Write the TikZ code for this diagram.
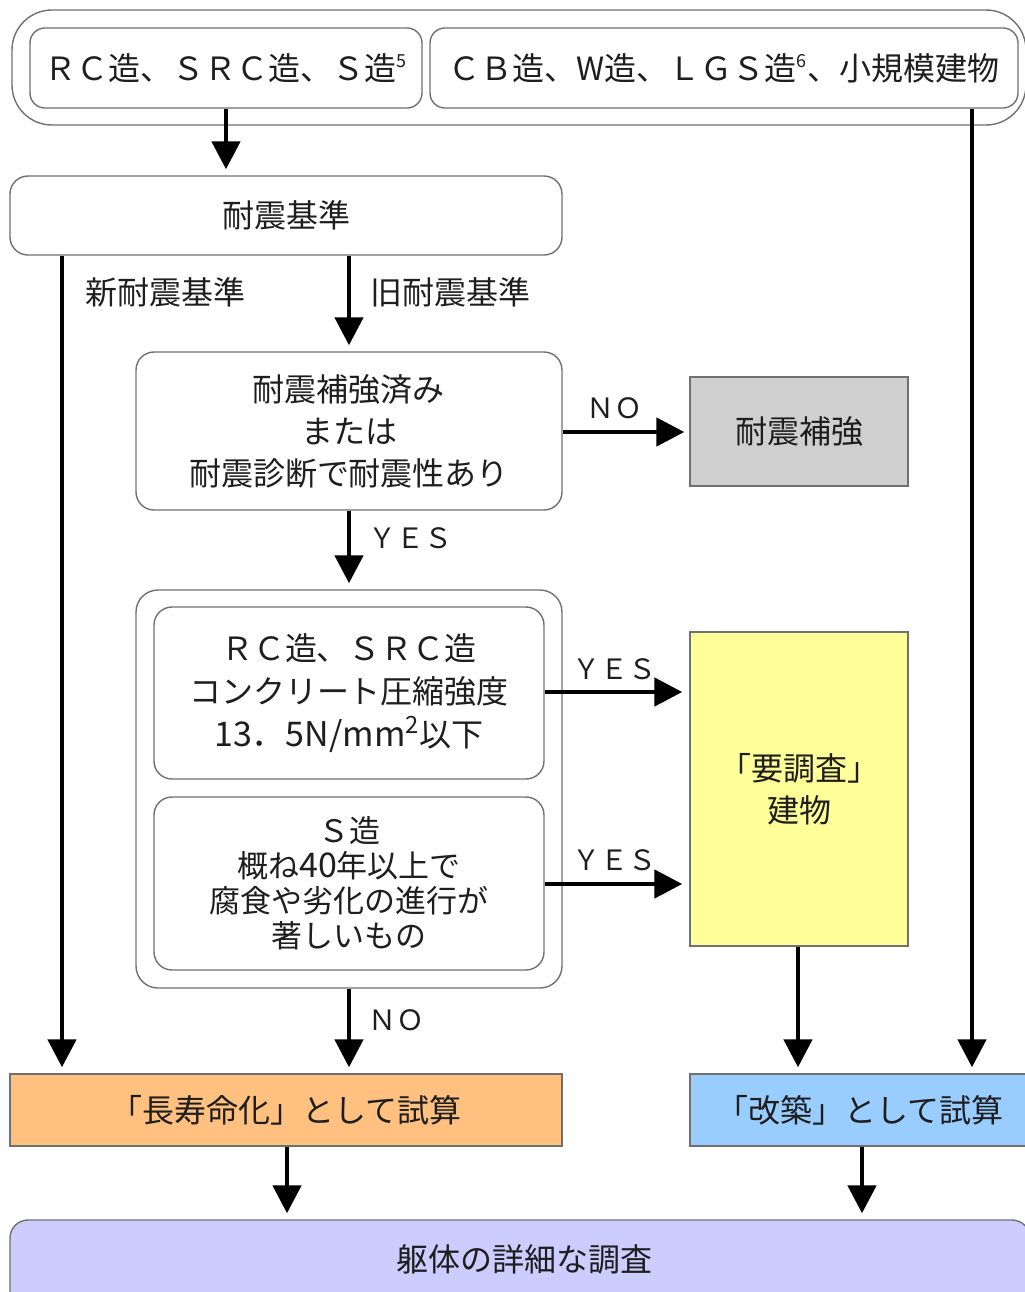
\documentclass[tikz,border=0pt]{standalone}
\usepackage{fontspec}
\setmainfont{Noto Sans CJK JP}
\usetikzlibrary{arrows.meta}
\definecolor{txt}{HTML}{1E1E1E}
\definecolor{edge}{HTML}{707070}
\definecolor{grayfill}{HTML}{CFCFCF}
\definecolor{yelfill}{HTML}{FFFF99}
\definecolor{orafill}{HTML}{FFC080}
\definecolor{bluefill}{HTML}{99CCFF}
\definecolor{purfill}{HTML}{CCCCFF}
\begin{document}
\begin{tikzpicture}[x=0.5pt,y=-0.5pt,
  bx/.style 2 args={minimum width=#1*0.5pt, minimum height=#2*0.5pt},
  base/.style={draw=edge, line width=0.7pt, inner sep=0pt, text=txt, align=center,
    font=\fontsize{16}{21}\selectfont},
  rbox/.style={base, rounded corners=9pt},
  sbox/.style={base},
  lbl/.style={inner sep=0pt, text=txt, font=\fontsize{16}{20}\selectfont},
  yn/.style={inner sep=0pt, text=txt, font=\fontsize{14}{16}\selectfont},
  arr/.style={line width=2.4pt, -{Triangle[length=14pt,width=14pt]}, shorten >=3pt},
  ln/.style={line width=2.4pt}]
\useasboundingbox (0,0) rectangle (1024,1292);
% top group
\node[base, rounded corners=20pt, bx={1014}{115}] (topgrp) at (519,67.5) {};
\node[base, rounded corners=7.5pt, bx={392}{80}] (rcs) at (226,68) {ＲＣ造、ＳＲＣ造、Ｓ造\textsuperscript{\fontsize{9}{9}\selectfont 5}};
\node[base, rounded corners=7.5pt, bx={588}{80}] (cbw) at (724,68) {ＣＢ造、W造、ＬＧＳ造\textsuperscript{\fontsize{9}{9}\selectfont 6}、小規模建物};
% kijun
\node[rbox, bx={552}{79}] (kijun) at (286,215.5) {耐震基準};
\node[rbox, bx={426}{158}, font=\fontsize{16}{21}\selectfont] (q1) at (349,431) {耐震補強済み\\または\\耐震診断で耐震性あり};
\node[sbox, fill=grayfill, bx={218}{109}] (hokyo) at (799,431.5) {耐震補強};
% group
\node[base, rounded corners=11pt, bx={426}{398}] (grp) at (349,789) {};
\node[rbox, bx={390}{172}, font=\fontsize{16}{21.5}\selectfont] (qa) at (349,693) {ＲＣ造、ＳＲＣ造\\コンクリート圧縮強度\\{\fontsize{17}{21.5}\selectfont 13．5N/mm\textsuperscript{2}}以下};
\node[rbox, bx={390}{173}, font=\fontsize{15.5}{17.5}\selectfont] (qb) at (349,883.5) {Ｓ造\\概ね{\fontsize{17}{17.5}\selectfont 40}年以上で\\腐食や劣化の進行が\\著しいもの};
\node[sbox, fill=yelfill, bx={218}{314}] (yo) at (799,789) {「要調査」\\建物};
% results
\node[sbox, fill=orafill, bx={552}{72}] (choju) at (286,1110) {「長寿命化」として試算};
\node[sbox, fill=bluefill, bx={340}{72}] (kaichiku) at (860,1110) {「改築」として試算};
\node[rbox, fill=purfill, bx={1020}{90}] (chosa) at (520,1265) {};
\node[lbl] (chosatxt) at (524,1259) {躯体の詳細な調査};
% x positions
\coordinate (xL) at (62,0);
\coordinate (xC) at (349,0);
\coordinate (xT) at (226,0);
\coordinate (xR) at (972,0);
\coordinate (xY) at (798,0);
\coordinate (xO) at (287,0);
\coordinate (xB) at (862,0);
\coordinate (yA) at (0,692);
\coordinate (yB) at (0,884);
\coordinate (yN) at (0,432);
% arrows
\draw[arr] (rcs.south -| xT) -- (kijun.north -| xT);
\draw[arr] (cbw.south -| xR) -- (kaichiku.north -| xR);
\draw[arr] (kijun.south -| xL) -- (choju.north -| xL);
\draw[arr] (kijun.south -| xC) -- (q1.north -| xC);
\draw[arr, shorten >=2.5pt] (q1.east |- yN) -- (hokyo.west |- yN);
\draw[arr] (q1.south -| xC) -- (grp.north -| xC);
\draw[arr, shorten >=3.5pt] (qa.east |- yA) -- (yo.west |- yA);
\draw[arr, shorten >=3.5pt] (qb.east |- yB) -- (yo.west |- yB);
\draw[arr] (yo.south -| xY) -- (kaichiku.north -| xY);
\draw[arr] (grp.south -| xC) -- (choju.north -| xC);
\draw[arr] (choju.south -| xO) -- (chosa.north -| xO);
\draw[arr] (kaichiku.south -| xB) -- (chosa.north -| xB);
% labels
\node[lbl] (lnew) at (165,292) {新耐震基準};
\node[lbl] (lold) at (450,292) {旧耐震基準};
\node[yn] (lno1) at (614,408) {ＮＯ};
\node[yn] (lyes1) at (410,538) {ＹＥＳ};
\node[yn] (lyes2) at (614,669) {ＹＥＳ};
\node[yn] (lyes3) at (614,860) {ＹＥＳ};
\node[yn] (lno2) at (396,1020) {ＮＯ};
\end{tikzpicture}
\end{document}
